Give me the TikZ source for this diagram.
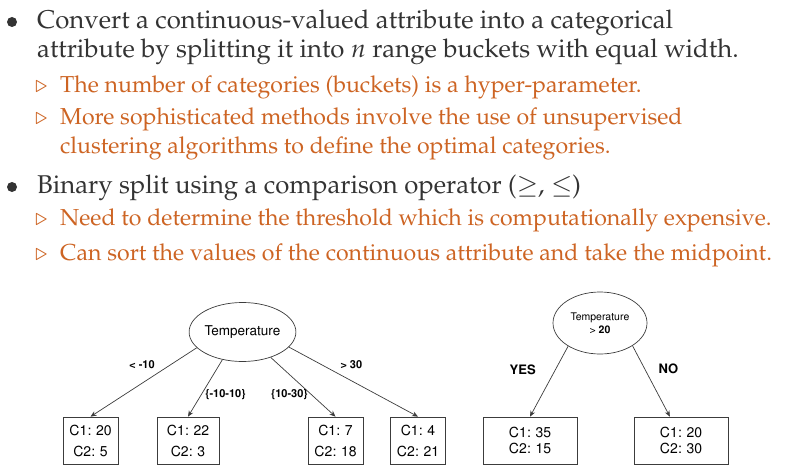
\documentclass[tikz,border=0pt]{standalone}
\usepackage[T1]{fontenc}
\usepackage{mathpazo}
\usepackage{helvet}
\usepackage{tikz}
\usetikzlibrary{shapes.geometric}
\usetikzlibrary{arrows.meta}

\definecolor{bodytext}{RGB}{51,51,51}
\definecolor{subtext}{RGB}{205,100,35}
\definecolor{treeline}{RGB}{60,60,60}

\begin{document}
\begin{tikzpicture}[x=1pt, y=1pt,
        mainline/.style={anchor=base west, inner sep=0pt, text=bodytext, font=\fontsize{25.7}{30}\selectfont},
        subline/.style={anchor=base west, inner sep=0pt, text=subtext, font=\fontsize{23.1}{27}\selectfont},
        bulletdot/.style={circle, fill=bodytext, minimum size=10pt, inner sep=0pt},
        rootnode/.style={ellipse, draw=treeline, line width=0.7pt, inner sep=0pt, font=\sffamily\fontsize{13.5}{15}\selectfont},
        leafbox/.style={rectangle, draw=treeline, line width=0.7pt, inner sep=0pt, align=center, minimum width=55pt, minimum height=47pt, font=\sffamily\fontsize{14}{21}\selectfont},
        edgelabel/.style={inner sep=3.5pt, font=\sffamily\bfseries\fontsize{11}{13}\selectfont},
        edge from parent/.style={draw=treeline, line width=0.7pt, -{Stealth[length=6pt, width=5pt]}},
        edgeat/.style 2 args={edge from parent path={(\tikzparentnode.#1) -- (\tikzchildnode.#2)}}
    ]
    \useasboundingbox (0,0) rectangle (794,472);

    \node[bulletdot] (dot1) at (12,450) {};
    \node[mainline] (conv1) at (37,443.5) {Convert a continuous-valued attribute into a categorical};
    \node[mainline] (conv2) at (37,414) {attribute by splitting it into $n$ range buckets with equal width.};
    \node[subline] (conv3) at (60,379) {The number of categories (buckets) is a hyper-parameter.};
    \node[subline] (conv4) at (60,347) {More sophisticated methods involve the use of unsupervised};
    \node[subline] (conv5) at (60,319) {clustering algorithms to define the optimal categories.};

    \node[bulletdot] (dot2) at (12,285) {};
    \node[mainline] (bin1) at (37,279) {Binary split using a comparison operator ($\geq$, $\leq$)};
    \node[subline] (bin2) at (60,247) {Need to determine the threshold which is computationally expensive.};
    \node[subline] (bin3) at (60,212) {Can sort the values of the continuous attribute and take the midpoint.};

    \foreach \y in {379,347,247,212}
        \node[subline] (tri\y) at (35,\y) {$\triangleright$};

    \node[rootnode, minimum width=95pt, minimum height=59pt] (temp) at (242.5,140) {Temperature}
        [level distance=108.5pt, sibling distance=100pt]
        child[xshift=-2pt, edgeat={199}{north}] {
            node[leafbox] (cold) {C1: 20\\C2: 5}
            edge from parent node[edgelabel, above left, pos=.36] {< -10}
        }
        child[xshift=-4.5pt, edgeat={234}{north}] {
            node[leafbox, minimum width=62pt] (cool) {C1: 22\\C2: 3}
            edge from parent node[edgelabel, right, pos=.61] {\{-10-10\}}
        }
        child[xshift=43pt, edgeat={318}{north}] {
            node[leafbox] (warm) {C1: 7\\C2: 18}
            edge from parent node[edgelabel, left, pos=.63] {\{10-30\}}
        }
        child[xshift=25.5pt, edgeat={342}{north}] {
            node[leafbox] (hot) {C1: 4\\C2: 21}
            edge from parent node[edgelabel, above right, pos=.37] {> 30}
        };

    \node[rootnode, minimum width=94pt, minimum height=62pt, align=center, font=\sffamily\fontsize{10.5}{13}\selectfont] (temptwo) at (600,149) {Temperature\\> \textbf{20}}
        [level distance=117.5pt, sibling distance=151pt]
        child[xshift=5.5pt, edgeat={216}{north}] {
            node[leafbox, minimum width=94pt, font=\sffamily\fontsize{14}{16.5}\selectfont] (above) {C1: 35\\C2: 15}
            edge from parent node[edgelabel, font=\sffamily\bfseries\fontsize{13}{15}\selectfont, left=16pt, pos=.33] {YES}
        }
        child[xshift=5.5pt, edgeat={325}{115}] {
            node[leafbox, minimum width=94pt, font=\sffamily\fontsize{14}{16.5}\selectfont] (below) {C1: 20\\C2: 30}
            edge from parent node[edgelabel, font=\sffamily\bfseries\fontsize{13}{15}\selectfont, right=10pt, pos=.33] {NO}
        };
\end{tikzpicture}
\end{document}
